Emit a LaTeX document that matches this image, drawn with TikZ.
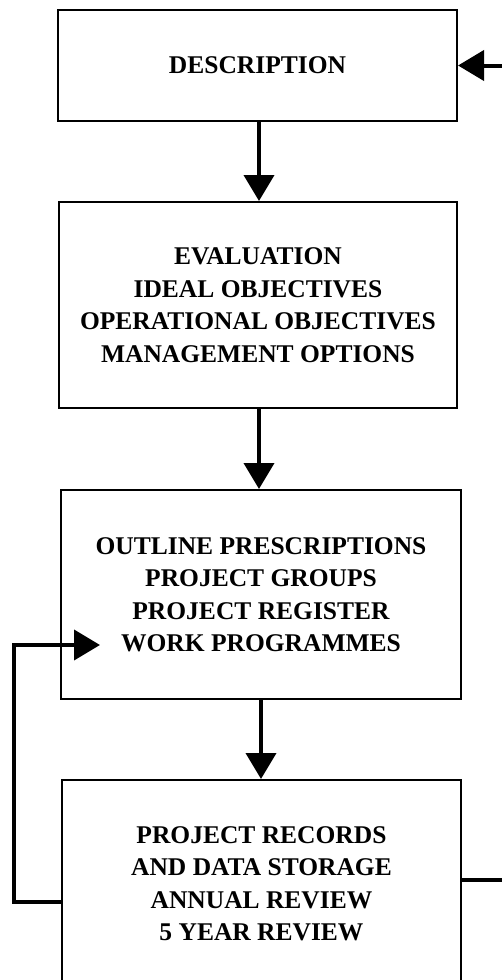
\documentclass[tikz,border=0pt]{standalone}
\usepackage{fontspec}
\setmainfont{Liberation Serif}
\usetikzlibrary{arrows.meta}
\begin{document}
\begin{tikzpicture}[x=1pt,y=-1pt,
  stagebox/.style={draw, line width=2pt, align=center, inner sep=0pt,
    font=\fontsize{25.5}{32.5}\selectfont\bfseries},
  conn/.style={line width=4pt, -{Triangle[length=26pt,width=30pt]}},
  loopline/.style={line width=4pt}]
\useasboundingbox (0,0) rectangle (501,980);
\fill[white] (0,0) rectangle (501,980);

\node[stagebox, minimum width=399pt, minimum height=111pt] (b1) at (257.5,65.5)
  {DESCRIPTION};
\node[stagebox, minimum width=398pt, minimum height=206pt] (b2) at (258,305)
  {EVALUATION\\IDEAL OBJECTIVES\\OPERATIONAL OBJECTIVES\\MANAGEMENT OPTIONS};
\node[stagebox, minimum width=400pt, minimum height=209pt] (b3) at (261,594.5)
  {OUTLINE PRESCRIPTIONS\\PROJECT GROUPS\\PROJECT REGISTER\\WORK PROGRAMMES};
\node[stagebox, minimum width=399pt, minimum height=207pt] (b4) at (261.5,883.5)
  {PROJECT RECORDS\\AND DATA STORAGE\\ANNUAL REVIEW\\5 YEAR REVIEW};

% feedback into the work programmes
\coordinate (wp) at (100,645);

% main flow
\draw[conn] (b1.south -| 259,0) -- (b2.north -| 259,0);
\draw[conn] (b2.south -| 259,0) -- (b3.north -| 259,0);
\draw[conn] (b3.south -| 261,0) -- (b4.north -| 261,0);

% review loops
\draw[conn] ([yshift=-18.5pt]b4.west) -- ++(-47,0) |- (wp);
\draw[conn] ([yshift=3.5pt]b4.east) -- ++(70,0) |- (b1.east);
\end{tikzpicture}
\end{document}
